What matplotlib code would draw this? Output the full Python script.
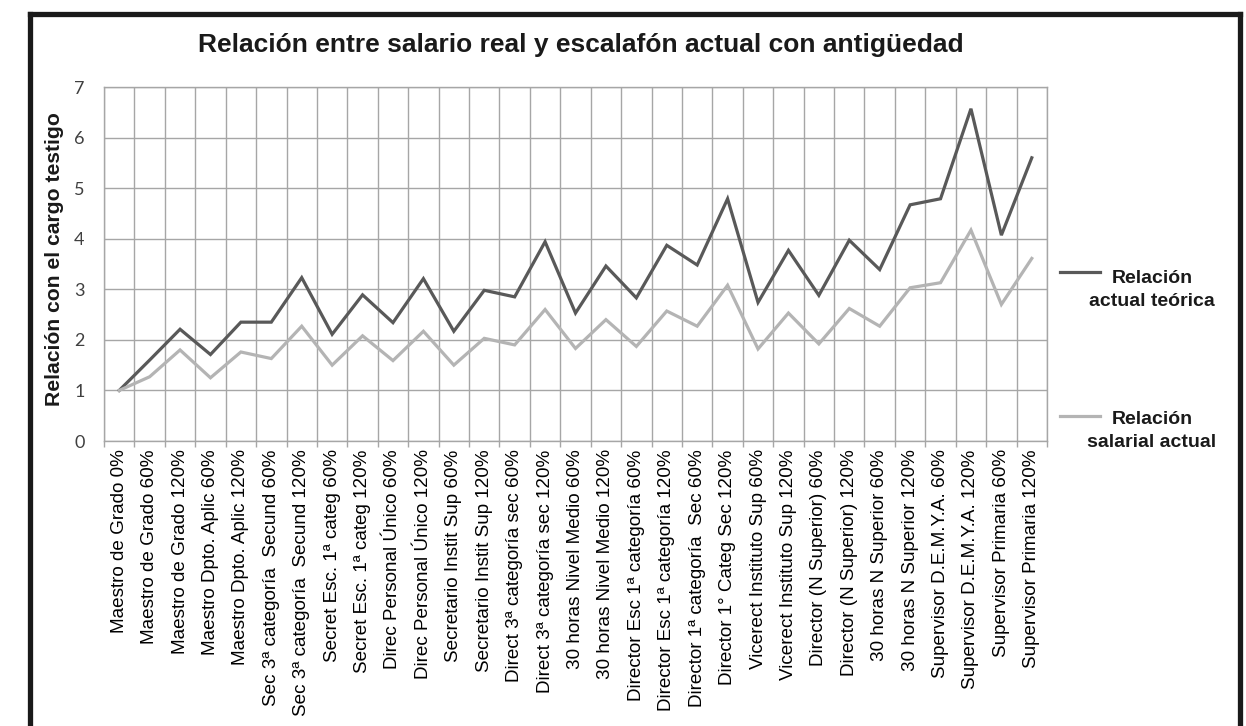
import matplotlib
matplotlib.use("Agg")
import matplotlib.pyplot as plt
from matplotlib.lines import Line2D
from matplotlib import font_manager
import numpy as np

categories = [
    "Maestro de Grado 0%",
    "Maestro de Grado 60%",
    "Maestro de Grado 120%",
    "Maestro Dpto. Aplic 60%",
    "Maestro Dpto. Aplic 120%",
    "Sec 3ª categoría  Secund 60%",
    "Sec 3ª categoría  Secund 120%",
    "Secret Esc. 1ª categ 60%",
    "Secret Esc. 1ª categ 120%",
    "Direc Personal Único 60%",
    "Direc Personal Único 120%",
    "Secretario Instit Sup 60%",
    "Secretario Instit Sup 120%",
    "Direct 3ª categoría sec 60%",
    "Direct 3ª categoría sec 120%",
    "30 horas Nivel Medio 60%",
    "30 horas Nivel Medio 120%",
    "Director Esc 1ª categoría 60%",
    "Director Esc 1ª categoría 120%",
    "Director 1ª categoría  Sec 60%",
    "Director 1° Categ Sec 120%",
    "Vicerect Instituto Sup 60%",
    "Vicerect Instituto Sup 120%",
    "Director (N Superior) 60%",
    "Director (N Superior) 120%",
    "30 horas N Superior 60%",
    "30 horas N Superior 120%",
    "Supervisor D.E.M.Y.A. 60%",
    "Supervisor D.E.M.Y.A. 120%",
    "Supervisor Primaria 60%",
    "Supervisor Primaria 120%",
]

relacion_teorica = [1.00, 1.60, 2.21, 1.71, 2.35, 2.35, 3.23, 2.11, 2.89, 2.34,
                    3.21, 2.17, 2.98, 2.85, 3.94, 2.53, 3.46, 2.83, 3.87, 3.48,
                    4.79, 2.74, 3.77, 2.88, 3.97, 3.39, 4.67, 4.79, 6.57, 4.07, 5.60]

relacion_salarial = [1.00, 1.27, 1.80, 1.25, 1.76, 1.63, 2.27, 1.50, 2.08, 1.59,
                     2.17, 1.50, 2.03, 1.90, 2.60, 1.83, 2.40, 1.87, 2.57, 2.27,
                     3.08, 1.82, 2.53, 1.92, 2.62, 2.27, 3.03, 3.13, 4.17, 2.70, 3.61]

series_names = ["Relación\nactual teórica", "Relación\nsalarial actual"]
yticks = [0, 1, 2, 3, 4, 5, 6, 7]

title = "Relación entre salario real y escalafón actual con antigüedad"
ylabel = "Relación con el cargo testigo"

installed = {f.name for f in font_manager.fontManager.ttflist}
narrow = "Liberation Sans Narrow" if "Liberation Sans Narrow" in installed else None

dark = "#595959"
light = "#b4b4b4"
grid_c = "#a6a6a6"

W, H = 1246, 726
fig = plt.figure(figsize=(W / 100, H / 100), dpi=100)
fig.patch.set_facecolor("white")

ax = fig.add_axes([104 / W, 1 - 441 / H, (1047 - 104) / W, (441 - 87) / H])

x = np.arange(len(categories))
ax.plot(x, relacion_teorica, color=dark, lw=2.3, solid_joinstyle="miter")
ax.plot(x, relacion_salarial, color=light, lw=2.3, solid_joinstyle="miter")

ax.set_xlim(-0.5, len(categories) - 0.5)
ax.set_ylim(0, 7)
ax.set_yticks(yticks)
ax.set_xticks(x)
ax.set_xticks(np.arange(len(categories) + 1) - 0.5, minor=True)
ax.set_xticklabels(categories, rotation=90, fontsize=13.6,
                   family=["Liberation Sans", "DejaVu Sans"])
ax.tick_params(axis="x", which="major", length=0, pad=6, colors="black")
ax.tick_params(axis="x", which="minor", length=4, color=grid_c, width=1)
ax.tick_params(axis="y", length=0, pad=14, labelsize=13, labelcolor="#404040")
for lbl in ax.get_yticklabels():
    lbl.set_family(["Lato", "DejaVu Sans"])

ax.grid(True, axis="y", which="major", color=grid_c, lw=1.0)
ax.grid(True, axis="x", which="minor", color=grid_c, lw=1.0)
ax.set_axisbelow(True)
for s in ax.spines.values():
    s.set_color(grid_c)
    s.set_linewidth(1.0)

fig.text(55 / W, 1 - 259 / H, ylabel, rotation=90, ha="center", va="center",
         fontsize=15.2, fontweight="bold", family=["Liberation Sans", "DejaVu Sans"],
         color="#1a1a1a")

tfam = [narrow, "Liberation Sans", "DejaVu Sans"] if narrow else ["Liberation Sans", "DejaVu Sans"]
tsize = 21 if narrow else 19
fig.text(581 / W, 1 - 45 / H, title, ha="center", va="center",
         fontsize=tsize, fontweight="bold", family=tfam, color="#1a1a1a")

# legend
for (ly, ty), col, name in zip([(272, 290), (416, 431)], [dark, light], series_names):
    fig.add_artist(Line2D([1060 / W, 1100 / W], [1 - ly / H, 1 - ly / H],
                          transform=fig.transFigure, color=col, lw=2.3))
    fig.text(1152 / W, 1 - ty / H, name, ha="center", va="center", fontsize=14,
             fontweight="bold", family=["Liberation Sans", "DejaVu Sans"],
             linespacing=1.5, color="#1a1a1a")

# frame
fk = dict(transform=fig.transFigure, color="#1a1a1a", lw=3.8, solid_capstyle="projecting")
fig.add_artist(Line2D([29.5 / W, 29.5 / W], [0, 1 - 14 / H], **fk))
fig.add_artist(Line2D([29.5 / W, 1240 / W], [1 - 14 / H, 1 - 14 / H], **fk))
fig.add_artist(Line2D([1240 / W, 1240 / W], [0, 1 - 14 / H], **fk))

fig.savefig("out.png", dpi=100, facecolor="white")
